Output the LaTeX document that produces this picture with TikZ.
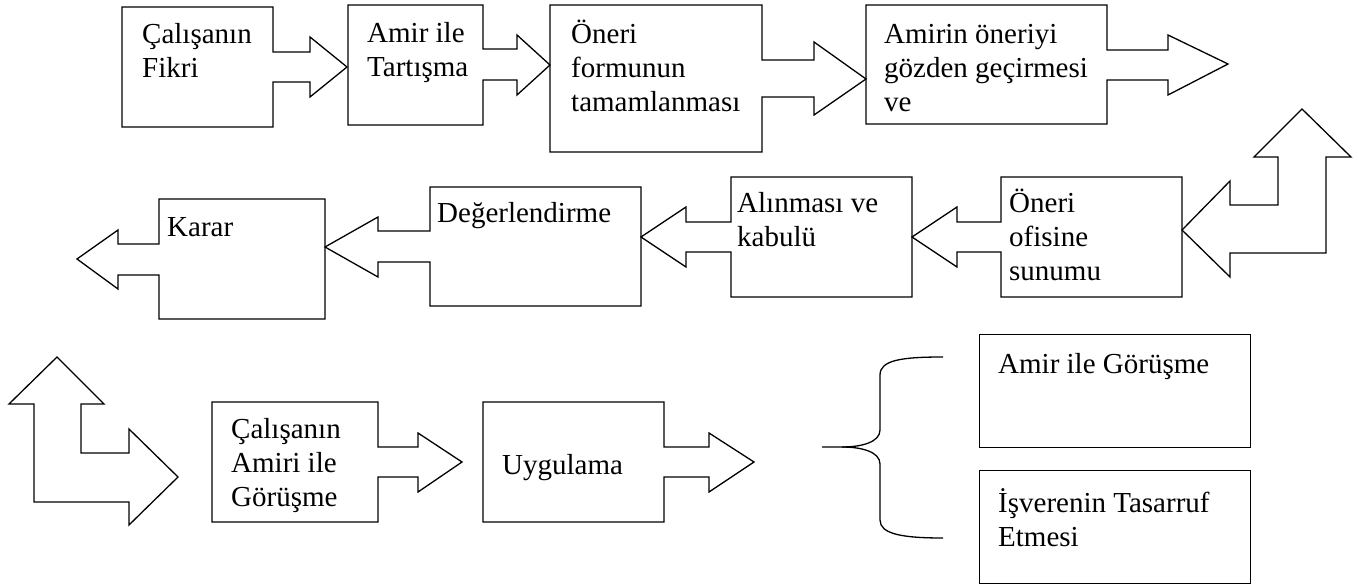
\documentclass[tikz,border=0pt]{standalone}
\usepackage{fontspec}
\setmainfont{Liberation Serif}
\newcommand{\txtblock}[1]{\begin{tabular}[t]{@{}l@{}}#1\end{tabular}}
\tikzset{
  shapeline/.style={draw=black, line width=1.3pt, line join=miter},
  lbl/.style={anchor=base west, inner sep=0pt, font=\fontsize{29}{34}\selectfont}
}
\begin{document}
\begin{tikzpicture}[x=1pt,y=-1pt]
\useasboundingbox (0,0) rectangle (1359,585);

% Row 1
\draw[shapeline] (122,7) -- (273,7) -- (273,52) -- (310,52) -- (310,37) -- (347,67) -- (310,97) -- (310,82) -- (273,82) -- (273,127) -- (122,127) -- cycle;
\node[lbl] (t1) at (142,44) {\txtblock{Çalışanın\\Fikri}};

\draw[shapeline] (348,5) -- (483,5) -- (483,49) -- (517,49) -- (517,35) -- (550,65) -- (517,95) -- (517,80) -- (483,80) -- (483,125) -- (348,125) -- cycle;
\node[lbl] (t2) at (367,43) {\txtblock{Amir ile\\Tartışma}};

\draw[shapeline] (550,5) -- (762,5) -- (762,60) -- (814,60) -- (814,42) -- (866,79) -- (814,115) -- (814,97) -- (762,97) -- (762,152) -- (550,152) -- cycle;
\node[lbl] (t3) at (571,44) {\txtblock{Öneri\\formunun\\tamamlanması}};

\draw[shapeline] (866,5) -- (1107,5) -- (1107,50) -- (1168,50) -- (1168,35) -- (1228,64) -- (1168,95) -- (1168,80) -- (1107,80) -- (1107,124) -- (866,124) -- cycle;
\node[lbl] (t4) at (884,44) {\txtblock{Amirin öneriyi\\gözden geçirmesi\\ve}};

% Right bent arrow (up then left)
\draw[shapeline] (1182,230) -- (1230,181) -- (1230,205) -- (1278,205) -- (1278,157) -- (1254,157) -- (1302,109) -- (1351,157) -- (1326,157) -- (1326,253) -- (1230,253) -- (1230,277) -- cycle;

% Row 2
\draw[shapeline] (1001,177) -- (1182,177) -- (1182,297) -- (1001,297) -- (1001,252) -- (957,252) -- (957,267) -- (912,237) -- (957,207) -- (957,222) -- (1001,222) -- cycle;
\node[lbl] (t5) at (1009,213) {\txtblock{Öneri\\ofisine\\sunumu}};

\draw[shapeline] (731,177) -- (912,177) -- (912,297) -- (731,297) -- (731,252) -- (686,252) -- (686,267) -- (641,237) -- (686,207) -- (686,222) -- (731,222) -- cycle;
\node[lbl] (t6) at (737,213) {\txtblock{Alınması ve\\kabulü}};

\draw[shapeline] (430,187) -- (641,187) -- (641,306) -- (430,306) -- (430,262) -- (378,262) -- (378,277) -- (325,247) -- (378,217) -- (378,231) -- (430,231) -- cycle;
\node[lbl] (t7) at (437,223) {Değerlendirme};

\draw[shapeline] (159,199) -- (325,199) -- (325,319) -- (159,319) -- (159,275) -- (118,275) -- (118,289) -- (77,259) -- (118,230) -- (118,244) -- (159,244) -- cycle;
\node[lbl] (t8) at (167,237) {Karar};

% Left bent arrow (up / right)
\draw[shapeline] (57,357) -- (104,404) -- (81,404) -- (81,453) -- (129,453) -- (129,429) -- (178,477) -- (129,525) -- (129,502) -- (34,502) -- (34,404) -- (9,404) -- cycle;

% Row 3
\draw[shapeline] (212,402) -- (378,402) -- (378,447) -- (418,447) -- (418,433) -- (462,462) -- (418,492) -- (418,477) -- (378,477) -- (378,522) -- (212,522) -- cycle;
\node[lbl] (t9) at (231,438) {\txtblock{Çalışanın\\Amiri ile\\Görüşme}};

\draw[shapeline] (483,402) -- (664,402) -- (664,447) -- (709,447) -- (709,433) -- (754,462) -- (709,492) -- (709,477) -- (664,477) -- (664,522) -- (483,522) -- cycle;
\node[lbl] (t10) at (502,474) {Uygulama};

% Brace
\draw[shapeline] (943,357) .. controls (902,357) and (880,360) .. (880,375) -- (880,430) .. controls (880,442) and (862,447) .. (842,447) -- (822,447);
\draw[shapeline] (842,447) .. controls (862,447) and (880,452) .. (880,464) -- (880,520) .. controls (880,534) and (902,538) .. (943,538);

% Right boxes
\node[draw=black, line width=1.3pt, minimum width=271pt, minimum height=113pt, inner sep=0pt, anchor=north west] (b1) at (979,334) {};
\node[lbl] (t11) at (998,373) {Amir ile Görüşme};
\node[draw=black, line width=1.3pt, minimum width=271pt, minimum height=113pt, inner sep=0pt, anchor=north west] (b2) at (979,470) {};
\node[lbl] (t12) at (998,512) {\txtblock{İşverenin Tasarruf\\Etmesi}};
\end{tikzpicture}
\end{document}
